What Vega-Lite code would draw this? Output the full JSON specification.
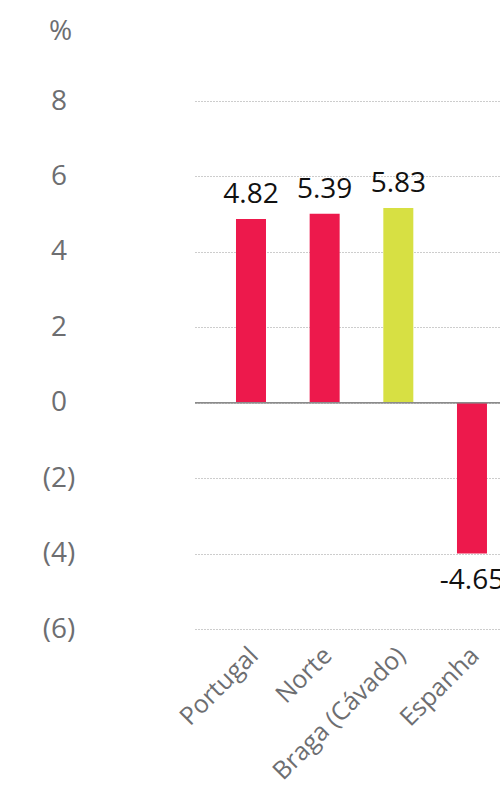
{
  "$schema": "https://vega.github.io/schema/vega-lite/v6.json",
  "width": 305,
  "height": 528,
  "autosize": {"type": "none"},
  "padding": {"left": 195, "top": 101, "right": 0, "bottom": 159},
  "background": "white",
  "config": {"view": {"stroke": null}, "font": "Open Sans"},
  "data": {
    "values": [
      {"region": "Portugal", "value": 4.87, "label": "4.82", "group": "outros"},
      {"region": "Norte", "value": 5.01, "label": "5.39", "group": "outros"},
      {"region": "Braga (Cávado)", "value": 5.16, "label": "5.83", "group": "braga"},
      {"region": "Espanha", "value": -4.0, "label": "-4.65", "group": "outros"}
    ]
  },
  "encoding": {
    "x": {
      "field": "region",
      "type": "nominal",
      "sort": null,
      "scale": {"paddingInner": 0.5928, "paddingOuter": 0.3666, "align": 0.759, "round": false},
      "axis": {
        "title": null,
        "domain": false,
        "ticks": false,
        "tickSize": 0,
        "grid": false,
        "labelAngle": -45,
        "labelAlign": "right",
        "labelBaseline": "middle",
        "labelPadding": 22,
        "labelOffset": 3,
        "labelLimit": 0,
        "labelFontSize": 25,
        "labelColor": "#6d6e71",
        "labelFont": "Open Sans"
      }
    },
    "y": {
      "field": "value",
      "type": "quantitative",
      "scale": {"domain": [-6, 8], "nice": false, "zero": false},
      "axis": {
        "values": [-6, -4, -2, 0, 2, 4, 6, 8],
        "domain": false,
        "ticks": false,
        "tickSize": 0,
        "labelPadding": 136.5,
        "labelAlign": "center",
        "labelBaseline": "middle",
        "labelFontSize": 28,
        "labelColor": "#6d6e71",
        "labelFont": "Open Sans",
        "labelExpr": "datum.value < 0 ? '(' + abs(datum.value) + ')' : datum.label",
        "grid": true,
        "gridColor": "#9a9a9a",
        "gridDash": [1, 2],
        "gridWidth": 1,
        "title": "%",
        "titleAngle": 0,
        "titleX": -135,
        "titleY": -70,
        "titleAlign": "center",
        "titleBaseline": "middle",
        "titleFontSize": 28,
        "titleFontWeight": "normal",
        "titleColor": "#6d6e71",
        "titleFont": "Open Sans"
      }
    }
  },
  "layer": [
    {
      "mark": {"type": "bar"},
      "encoding": {
        "color": {
          "field": "group",
          "type": "nominal",
          "scale": {"domain": ["outros", "braga"], "range": ["#ED194C", "#D7E043"]},
          "legend": null
        }
      }
    },
    {
      "mark": {"type": "rule", "color": "#8c8c8c", "strokeWidth": 1},
      "encoding": {"y": {"datum": 0}, "x": null}
    },
    {
      "transform": [{"filter": "datum.value >= 0"}],
      "mark": {"type": "text", "baseline": "alphabetic", "dy": -16, "fontSize": 28, "color": "#111111", "font": "Open Sans"},
      "encoding": {"text": {"field": "label"}}
    },
    {
      "transform": [{"filter": "datum.value < 0"}],
      "mark": {"type": "text", "baseline": "alphabetic", "dy": 35, "fontSize": 28, "color": "#111111", "font": "Open Sans", "clip": true},
      "encoding": {"text": {"field": "label"}}
    }
  ]
}
